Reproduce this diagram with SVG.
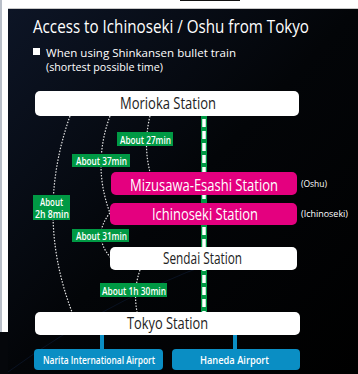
<svg xmlns="http://www.w3.org/2000/svg" width="358" height="374" viewBox="0 0 358 374">
<defs>
<linearGradient id="bg" x1="0" y1="0" x2="1" y2="1">
<stop offset="0" stop-color="#0d1526"/>
<stop offset="0.5" stop-color="#030508"/>
<stop offset="1" stop-color="#000"/>
</linearGradient>
<style>
.t{font-family:"Open Sans","Liberation Sans",sans-serif;fill:#fff}
.st{font-family:"Open Sans","Liberation Sans",sans-serif;font-size:16.5px;text-anchor:start}
.lbl{fill:#009944}
.lt{font-family:"Open Sans","Liberation Sans",sans-serif;font-size:10.5px;fill:#fff;font-weight:600}
.arc{fill:none;stroke:#e6e6e6;stroke-width:1.2;stroke-dasharray:1.5 1.5}
.wbox{fill:#fff}
.mbox{fill:#e4007f}
.bbox{fill:#0a8ec4}
</style>
</defs>
<rect x="0" y="0" width="358" height="374" fill="#fff"/>
<rect x="0" y="0" width="2" height="332" fill="#b8bec8"/>
<rect x="8" y="8" width="350" height="366" fill="url(#bg)"/>
<rect x="0" y="332" width="8" height="42" fill="#05070b"/>
<rect x="8" y="8" width="350" height="1" fill="#c8c8c8"/>
<rect x="180" y="0" width="60" height="1" fill="#111"/>
<path d="M8 372 Q120 290 250 250" fill="none" stroke="#0e1a33" stroke-width="1" opacity="0.6"/>

<g id="title">
<text class="t" x="33" y="33" font-size="17.5" font-weight="500" textLength="276" lengthAdjust="spacingAndGlyphs">Access to Ichinoseki / Oshu from Tokyo</text>
<rect x="33" y="48" width="7" height="7" fill="#fff"/>
<text class="t" x="46" y="57" font-size="11.5" textLength="190" lengthAdjust="spacingAndGlyphs">When using Shinkansen bullet train</text>
<text class="t" x="46" y="71" font-size="11.5" textLength="117" lengthAdjust="spacingAndGlyphs">(shortest possible time)</text>
</g>

<g id="connectors">
<rect x="201" y="116" width="6" height="196" fill="#009944"/>
<line x1="204" y1="119" x2="204" y2="312" stroke="#fff" stroke-width="3.5" stroke-dasharray="8 4"/>
<path class="arc" d="M150 116 Q143 145 150 172"/>
<path class="arc" d="M110 116 Q92 165 110 213"/>
<path class="arc" d="M70 116 Q35 215 72 312"/>
<path class="arc" d="M110 213 Q92 235 110 257"/>
<path class="arc" d="M140 270 Q133 290 137 312"/>
<rect x="100" y="335" width="4" height="14" fill="#0a8ec4"/>
<rect x="233" y="335" width="4" height="14" fill="#0a8ec4"/>
</g>

<g id="label-27"><rect class="lbl" x="117" y="132" width="56" height="14"/><text class="lt" x="120" y="143.5" textLength="51" lengthAdjust="spacingAndGlyphs">About 27min</text></g>
<g id="label-37"><rect class="lbl" x="72" y="154" width="58" height="13"/><text class="lt" x="76" y="164.5" textLength="51" lengthAdjust="spacingAndGlyphs">About 37min</text></g>
<g id="label-2h8"><rect class="lbl" x="33" y="195" width="37" height="25"/><text class="lt" x="40" y="205.5" textLength="23" lengthAdjust="spacingAndGlyphs">About</text><text class="lt" x="35" y="217.5" textLength="34" lengthAdjust="spacingAndGlyphs">2h 8min</text></g>
<g id="label-31"><rect class="lbl" x="72" y="229" width="57" height="13"/><text class="lt" x="76" y="239.5" textLength="51" lengthAdjust="spacingAndGlyphs">About 31min</text></g>
<g id="label-1h30"><rect class="lbl" x="100" y="283" width="67" height="14"/><text class="lt" x="102" y="294.5" textLength="64" lengthAdjust="spacingAndGlyphs">About 1h 30min</text></g>

<g id="morioka"><rect class="wbox" x="35" y="91" width="264" height="25" rx="5"/><text class="st" x="120" y="109" fill="#222" textLength="96" lengthAdjust="spacingAndGlyphs">Morioka Station</text></g>
<g id="mizusawa"><rect class="mbox" x="111" y="172" width="186" height="23" rx="5"/><text class="st" x="130" y="190.5" fill="#fff" textLength="148" lengthAdjust="spacingAndGlyphs">Mizusawa-Esashi Station</text><text class="t" x="301" y="187" font-size="9" textLength="26" lengthAdjust="spacingAndGlyphs">(Oshu)</text></g>
<g id="ichinoseki"><rect class="mbox" x="110" y="203" width="187" height="22" rx="5"/><text class="st" x="152" y="220" fill="#fff" textLength="106" lengthAdjust="spacingAndGlyphs">Ichinoseki Station</text><text class="t" x="301" y="217" font-size="9" textLength="47" lengthAdjust="spacingAndGlyphs">(Ichinoseki)</text></g>
<g id="sendai"><rect class="wbox" x="110" y="247" width="187" height="23" rx="5"/><text class="st" x="163" y="264" fill="#222" textLength="79" lengthAdjust="spacingAndGlyphs">Sendai  Station</text></g>
<g id="tokyo"><rect class="wbox" x="35" y="312" width="265" height="23" rx="5"/><text class="st" x="127" y="329" fill="#222" textLength="81" lengthAdjust="spacingAndGlyphs">Tokyo Station</text></g>
<g id="narita"><rect class="bbox" x="34" y="349" width="129" height="21" rx="4"/><text class="lt" x="43" y="364" textLength="112" lengthAdjust="spacingAndGlyphs">Narita International Airport</text></g>
<g id="haneda"><rect class="bbox" x="172" y="349" width="128" height="21" rx="4"/><text class="lt" x="200" y="364" textLength="69" lengthAdjust="spacingAndGlyphs">Haneda Airport</text></g>
</svg>
